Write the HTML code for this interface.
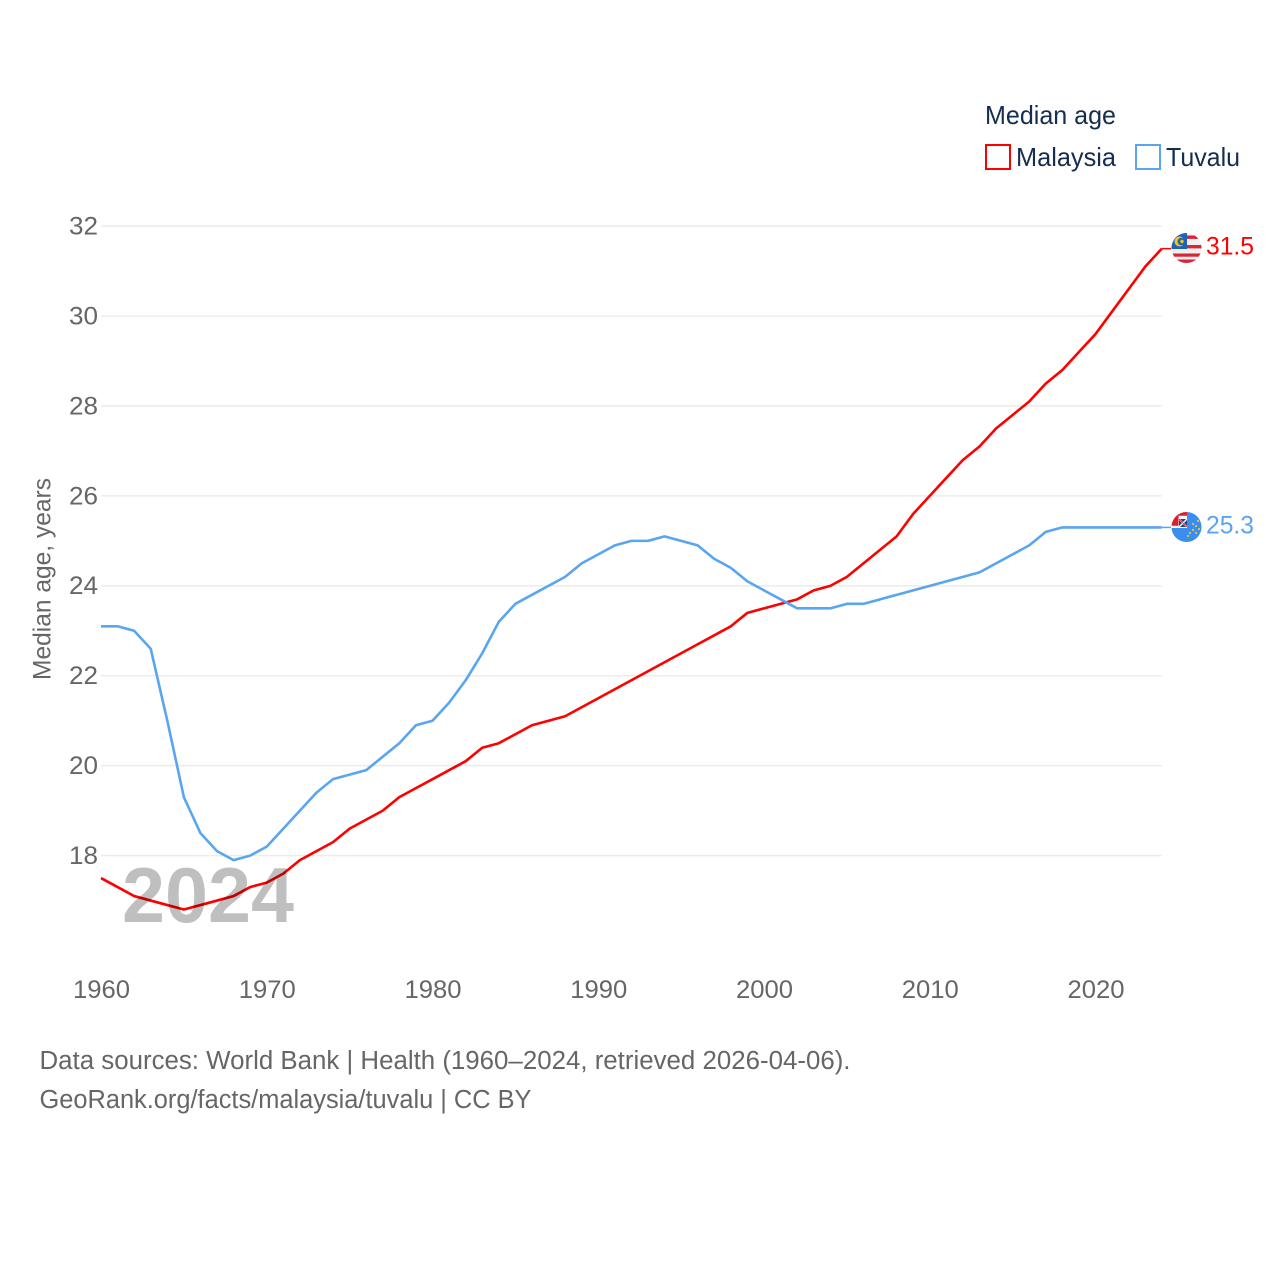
<!DOCTYPE html>
<html lang="en">
<head>
<meta charset="utf-8">
<title>Median age: Malaysia and Tuvalu</title>
<style>
html,body{margin:0;padding:0;background:#fff;width:1280px;height:1280px;overflow:hidden}
svg{display:block}
text{font-family:"Liberation Sans",sans-serif}
</style>
</head>
<body>
<svg id="chart" xmlns="http://www.w3.org/2000/svg" width="1280" height="1280" viewBox="0 0 1280 1280">
  <defs>
    <clipPath id="flag-clip-a"><circle cx="1186.5" cy="248" r="15"/></clipPath>
    <clipPath id="flag-clip-b"><circle cx="1186.5" cy="527" r="15"/></clipPath>
  </defs>
  <g id="grid"></g>
  <g id="yticks"></g>
  <g id="xticks"></g>
  <text transform="translate(50.5,680) rotate(-90)" font-size="25" fill="#666" textLength="202" lengthAdjust="spacingAndGlyphs">Median age, years</text>
  <g id="series"></g>
  <text x="122" y="922" font-size="78" font-weight="700" fill="#000" fill-opacity="0.25" textLength="172" lengthAdjust="spacingAndGlyphs">2024</text>

  <g>
    <text x="985" y="124" font-size="26" fill="#152d4f" textLength="131" lengthAdjust="spacingAndGlyphs">Median age</text>
    <rect x="986" y="145" width="24" height="24" fill="#fff" stroke="#ff0000" stroke-width="2"/>
    <text x="1016" y="166" font-size="26" fill="#152d4f" textLength="100" lengthAdjust="spacingAndGlyphs">Malaysia</text>
    <rect x="1136" y="145" width="24" height="24" fill="#fff" stroke="#5aa5f0" stroke-width="2"/>
    <text x="1166" y="166" font-size="26" fill="#152d4f" textLength="74" lengthAdjust="spacingAndGlyphs">Tuvalu</text>
  </g>

  <g clip-path="url(#flag-clip-a)">
    <rect x="1171" y="233" width="31" height="30" fill="#f0f0f0"/>
    <rect x="1171" y="235.5" width="31" height="3.4" fill="#d9253a"/>
    <rect x="1171" y="245" width="31" height="3.4" fill="#d9253a"/>
    <rect x="1171" y="253.5" width="31" height="3.2" fill="#d9253a"/>
    <rect x="1171" y="259.5" width="31" height="4" fill="#d9253a"/>
    <rect x="1171" y="233" width="16" height="16" fill="#1f63b8"/>
    <circle cx="1179.5" cy="241.5" r="5" fill="#f5c518"/>
    <circle cx="1181.3" cy="241.5" r="3.8" fill="#1f63b8"/>
    <circle cx="1182" cy="241.5" r="1.7" fill="#f5c518"/>
  </g>
  <g clip-path="url(#flag-clip-b)">
    <rect x="1171" y="512" width="31" height="30" fill="#3a8fee"/>
    <rect x="1171" y="512" width="16" height="16" fill="#f4f4f4"/>
    <path d="M1171 512h16v3.8h-8.5v10h-7.5z" fill="#d9202f"/>
    <rect x="1179" y="519" width="8" height="8" fill="#27417f"/>
    <path d="M1179 519l8 8M1187 519l-8 8" stroke="#f4f4f4" stroke-width="1.5"/>
    <path d="M1179 519l8 8" stroke="#d9202f" stroke-width="0.7"/>
    <g fill="#e6c34a">
      <circle cx="1198" cy="521" r="1.1"/>
      <circle cx="1196" cy="526" r="1.1"/>
      <circle cx="1199" cy="529" r="1.1"/>
      <circle cx="1193" cy="530" r="1.1"/>
      <circle cx="1196" cy="533" r="1.1"/>
      <circle cx="1190" cy="533" r="1.1"/>
      <circle cx="1188" cy="536" r="1.1"/>
      <circle cx="1193" cy="524" r="1.1"/>
    </g>
  </g>

  <g id="endlabels"></g>

  <text x="39.5" y="1069" font-size="25.5" fill="#666" textLength="811" lengthAdjust="spacingAndGlyphs">Data sources: World Bank | Health (1960–2024, retrieved 2026-04-06).</text>
  <text x="39.5" y="1108" font-size="25.5" fill="#666" textLength="492" lengthAdjust="spacingAndGlyphs">GeoRank.org/facts/malaysia/tuvalu | CC BY</text>
</svg>
<script>
const startYear = 1960;
const yTickValues = [18, 20, 22, 24, 26, 28, 30, 32];
const xTickValues = [1960, 1970, 1980, 1990, 2000, 2010, 2020];
const malaysiaValues = [17.5,17.3,17.1,17.0,16.9,16.8,16.9,17.0,17.1,17.3,17.4,17.6,17.9,18.1,18.3,18.6,18.8,19.0,19.3,19.5,19.7,19.9,20.1,20.4,20.5,20.7,20.9,21.0,21.1,21.3,21.5,21.7,21.9,22.1,22.3,22.5,22.7,22.9,23.1,23.4,23.5,23.6,23.7,23.9,24.0,24.2,24.5,24.8,25.1,25.6,26.0,26.4,26.8,27.1,27.5,27.8,28.1,28.5,28.8,29.2,29.6,30.1,30.6,31.1,31.5];
const tuvaluValues = [23.1,23.1,23.0,22.6,21.0,19.3,18.5,18.1,17.9,18.0,18.2,18.6,19.0,19.4,19.7,19.8,19.9,20.2,20.5,20.9,21.0,21.4,21.9,22.5,23.2,23.6,23.8,24.0,24.2,24.5,24.7,24.9,25.0,25.0,25.1,25.0,24.9,24.6,24.4,24.1,23.9,23.7,23.5,23.5,23.5,23.6,23.6,23.7,23.8,23.9,24.0,24.1,24.2,24.3,24.5,24.7,24.9,25.2,25.3,25.3,25.3,25.3,25.3,25.3,25.3];

const NS = 'http://www.w3.org/2000/svg';
const xScale = year => 101 + (year - 1960) * 16.575;
const yScale = value => 855.6 - (value - 18) * 44.96;
const RIGHT = xScale(2024);

function make(tag, parent, attrs, content) {
  const el = document.createElementNS(NS, tag);
  for (const k in attrs) el.setAttribute(k, attrs[k]);
  if (content !== undefined) el.textContent = content;
  parent.appendChild(el);
  return el;
}

const grid = document.getElementById('grid');
const yticks = document.getElementById('yticks');
const xticks = document.getElementById('xticks');
const seriesGroup = document.getElementById('series');
const endlabels = document.getElementById('endlabels');

yTickValues.forEach(v => {
  const line = make('line', grid, {x1: 101, x2: RIGHT, y1: yScale(v), y2: yScale(v), stroke: '#ececec', 'stroke-width': 1.5});
  
  
  const label = make('text', yticks, {x: 98, y: yScale(v) + 8.4, 'text-anchor': 'end', 'font-size': 25, fill: '#666', textLength: 29, lengthAdjust: 'spacingAndGlyphs'}, String(v));
  
  
});

xTickValues.forEach(y => {
  const label = make('text', xticks, {x: xScale(y) + 0.5, y: 998, 'text-anchor': 'middle', 'font-size': 25, fill: '#666', textLength: 57, lengthAdjust: 'spacingAndGlyphs'}, String(y));
  
  
});

function drawSeries(values, color) {
  const pts = values.map((v, i) => xScale(startYear + i).toFixed(2) + ',' + yScale(v).toFixed(2));
  const last = values[values.length - 1];
  const poly = make('polyline', seriesGroup, {points: pts.join(' '), fill: 'none', stroke: color, 'stroke-width': 2.6, 'stroke-linejoin': 'round'});
  
  
  const leader = make('line', seriesGroup, {x1: RIGHT, x2: 1171, y1: yScale(last), y2: yScale(last), stroke: color, 'stroke-width': 1.5});
  
  
  const label = make('text', endlabels, {x: 1206, y: yScale(last) + 6, 'font-size': 25, fill: color, textLength: 48, lengthAdjust: 'spacingAndGlyphs'}, last.toFixed(1));
  
  
}

drawSeries(malaysiaValues, '#ff0000');
drawSeries(tuvaluValues, '#5aa5f0');
</script>
</body>
</html>
